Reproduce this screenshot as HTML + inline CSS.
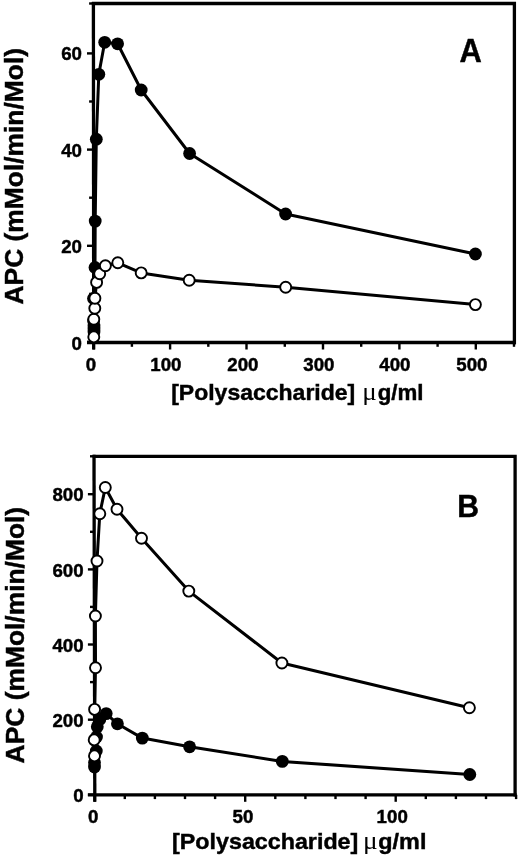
<!DOCTYPE html>
<html><head><meta charset="utf-8"><style>
html,body{margin:0;padding:0;background:#fff;}
body{width:520px;height:857px;overflow:hidden;}
svg{display:block;filter:grayscale(1);}
text{font-family:"Liberation Sans",sans-serif;fill:#000;stroke:#000;stroke-width:0.45px;}
.tk{font-weight:bold;font-size:18.7px;}
.let{font-weight:bold;font-size:32px;}
.axl{font-weight:bold;font-size:23px;}
.ayl{font-weight:bold;font-size:26.4px;}
.mu{font-family:"Liberation Serif",serif;font-size:27px;stroke:none;}
.gml{font-size:22.3px;}
</style></head><body>
<svg width="520" height="857" viewBox="0 0 520 857">
<rect width="520" height="857" fill="#fff"/>
<path d="M93.5,3.5 H514.4 V342.5" fill="none" stroke="#000" stroke-width="3.3" stroke-linejoin="miter" stroke-linecap="square"/>
<line x1="87.0" y1="342.5" x2="515.9" y2="342.5" stroke="#000" stroke-width="3.3"/>
<line x1="93.40" y1="2.0" x2="93.70" y2="349.5" stroke="#000" stroke-width="3.3"/>
<line x1="87.0" y1="342.0" x2="93.5" y2="342.0" stroke="#000" stroke-width="2.4"/>
<line x1="87.0" y1="245.8" x2="93.5" y2="245.8" stroke="#000" stroke-width="2.4"/>
<line x1="87.0" y1="149.6" x2="93.5" y2="149.6" stroke="#000" stroke-width="2.4"/>
<line x1="87.0" y1="53.4" x2="93.5" y2="53.4" stroke="#000" stroke-width="2.4"/>
<line x1="89.1" y1="293.9" x2="93.5" y2="293.9" stroke="#000" stroke-width="2.4"/>
<line x1="89.1" y1="197.7" x2="93.5" y2="197.7" stroke="#000" stroke-width="2.4"/>
<line x1="89.1" y1="101.5" x2="93.5" y2="101.5" stroke="#000" stroke-width="2.4"/>
<line x1="89.1" y1="3.5" x2="93.5" y2="3.5" stroke="#000" stroke-width="2.4"/>
<line x1="93.7" y1="342.5" x2="93.7" y2="349.5" stroke="#000" stroke-width="2.4"/>
<line x1="170.1" y1="342.5" x2="170.1" y2="349.5" stroke="#000" stroke-width="2.4"/>
<line x1="246.5" y1="342.5" x2="246.5" y2="349.5" stroke="#000" stroke-width="2.4"/>
<line x1="323.0" y1="342.5" x2="323.0" y2="349.5" stroke="#000" stroke-width="2.4"/>
<line x1="399.4" y1="342.5" x2="399.4" y2="349.5" stroke="#000" stroke-width="2.4"/>
<line x1="475.8" y1="342.5" x2="475.8" y2="349.5" stroke="#000" stroke-width="2.4"/>
<line x1="131.9" y1="342.5" x2="131.9" y2="346.8" stroke="#000" stroke-width="2.4"/>
<line x1="208.3" y1="342.5" x2="208.3" y2="346.8" stroke="#000" stroke-width="2.4"/>
<line x1="284.8" y1="342.5" x2="284.8" y2="346.8" stroke="#000" stroke-width="2.4"/>
<line x1="361.2" y1="342.5" x2="361.2" y2="346.8" stroke="#000" stroke-width="2.4"/>
<line x1="437.6" y1="342.5" x2="437.6" y2="346.8" stroke="#000" stroke-width="2.4"/>
<line x1="514.0" y1="342.5" x2="514.0" y2="346.8" stroke="#000" stroke-width="2.4"/>
<text x="82.0" y="349.7" text-anchor="end" class="tk">0</text>
<text x="82.0" y="253.2" text-anchor="end" class="tk">20</text>
<text x="82.0" y="156.7" text-anchor="end" class="tk">40</text>
<text x="82.0" y="60.1" text-anchor="end" class="tk">60</text>
<text x="91.0" y="370.8" text-anchor="middle" class="tk">0</text>
<text x="165.9" y="370.8" text-anchor="middle" class="tk">100</text>
<text x="242.9" y="370.8" text-anchor="middle" class="tk">200</text>
<text x="318.9" y="370.8" text-anchor="middle" class="tk">300</text>
<text x="394.9" y="370.8" text-anchor="middle" class="tk">400</text>
<text x="471.9" y="370.8" text-anchor="middle" class="tk">500</text>
<polyline points="94.0,332.0 94.0,329.0 94.0,326.0 93.6,321.0 93.5,298.5 95.0,267.5 95.2,221.1 96.3,139.2 98.8,74.3 104.7,42.3 117.6,43.8 141.2,90.0 189.6,153.5 285.6,214.0 475.4,254.0" fill="none" stroke="#000" stroke-width="3.0" stroke-linejoin="round"/>
<polyline points="93.8,336.9 93.8,319.2 94.8,308.3 94.9,298.2 96.6,282.4 99.7,273.8 105.4,265.8 117.8,262.8 141.2,272.9 189.2,280.2 285.7,287.3 475.4,304.6" fill="none" stroke="#000" stroke-width="3.0" stroke-linejoin="round"/>
<circle cx="94.0" cy="332.0" r="6.4" fill="#000"/>
<circle cx="94.0" cy="329.0" r="6.4" fill="#000"/>
<circle cx="94.0" cy="326.0" r="6.4" fill="#000"/>
<circle cx="93.6" cy="321.0" r="6.4" fill="#000"/>
<circle cx="93.5" cy="298.5" r="6.4" fill="#000"/>
<circle cx="95.0" cy="267.5" r="6.4" fill="#000"/>
<circle cx="95.2" cy="221.1" r="6.4" fill="#000"/>
<circle cx="96.3" cy="139.2" r="6.4" fill="#000"/>
<circle cx="98.8" cy="74.3" r="6.4" fill="#000"/>
<circle cx="104.7" cy="42.3" r="6.4" fill="#000"/>
<circle cx="117.6" cy="43.8" r="6.4" fill="#000"/>
<circle cx="141.2" cy="90.0" r="6.4" fill="#000"/>
<circle cx="189.6" cy="153.5" r="6.4" fill="#000"/>
<circle cx="285.6" cy="214.0" r="6.4" fill="#000"/>
<circle cx="475.4" cy="254.0" r="6.4" fill="#000"/>
<circle cx="93.8" cy="336.9" r="5.5" fill="#fff" stroke="#000" stroke-width="1.9"/>
<circle cx="93.8" cy="319.2" r="5.5" fill="#fff" stroke="#000" stroke-width="1.9"/>
<circle cx="94.8" cy="308.3" r="5.5" fill="#fff" stroke="#000" stroke-width="1.9"/>
<circle cx="94.9" cy="298.2" r="5.5" fill="#fff" stroke="#000" stroke-width="1.9"/>
<circle cx="96.6" cy="282.4" r="5.5" fill="#fff" stroke="#000" stroke-width="1.9"/>
<circle cx="99.7" cy="273.8" r="5.5" fill="#fff" stroke="#000" stroke-width="1.9"/>
<circle cx="105.4" cy="265.8" r="5.5" fill="#fff" stroke="#000" stroke-width="1.9"/>
<circle cx="117.8" cy="262.8" r="5.5" fill="#fff" stroke="#000" stroke-width="1.9"/>
<circle cx="141.2" cy="272.9" r="5.5" fill="#fff" stroke="#000" stroke-width="1.9"/>
<circle cx="189.2" cy="280.2" r="5.5" fill="#fff" stroke="#000" stroke-width="1.9"/>
<circle cx="285.7" cy="287.3" r="5.5" fill="#fff" stroke="#000" stroke-width="1.9"/>
<circle cx="475.4" cy="304.6" r="5.5" fill="#fff" stroke="#000" stroke-width="1.9"/>
<text transform="translate(459.40,62.00) scale(0.965,1.02)" x="0" y="0" class="let" style="font-size:32px">A</text>
<g transform="translate(171.20,400.00) scale(1.0,0.9500)">
<text x="0" y="0" class="axl">[Polysaccharide]</text>
<text x="191.0" y="0" class="mu">&#956;</text>
<text x="206.5" y="0" class="axl" style="font-size:22.3px">g/ml</text>
</g>
<text transform="translate(23.0,304.5) rotate(-90)" x="0" y="0" class="ayl">APC (mMol/min/Mol)</text>
<path d="M94.4,456.3 H515.1 V794.8" fill="none" stroke="#000" stroke-width="3.3" stroke-linejoin="miter" stroke-linecap="square"/>
<line x1="87.9" y1="794.8" x2="516.6" y2="794.8" stroke="#000" stroke-width="3.3"/>
<line x1="94.00" y1="454.8" x2="94.80" y2="801.8" stroke="#000" stroke-width="3.3"/>
<line x1="87.9" y1="794.8" x2="94.4" y2="794.8" stroke="#000" stroke-width="2.4"/>
<line x1="87.9" y1="719.7" x2="94.4" y2="719.7" stroke="#000" stroke-width="2.4"/>
<line x1="87.9" y1="644.5" x2="94.4" y2="644.5" stroke="#000" stroke-width="2.4"/>
<line x1="87.9" y1="569.4" x2="94.4" y2="569.4" stroke="#000" stroke-width="2.4"/>
<line x1="87.9" y1="494.2" x2="94.4" y2="494.2" stroke="#000" stroke-width="2.4"/>
<line x1="90.0" y1="757.2" x2="94.4" y2="757.2" stroke="#000" stroke-width="2.4"/>
<line x1="90.0" y1="682.1" x2="94.4" y2="682.1" stroke="#000" stroke-width="2.4"/>
<line x1="90.0" y1="606.9" x2="94.4" y2="606.9" stroke="#000" stroke-width="2.4"/>
<line x1="90.0" y1="531.8" x2="94.4" y2="531.8" stroke="#000" stroke-width="2.4"/>
<line x1="90.0" y1="456.3" x2="94.4" y2="456.3" stroke="#000" stroke-width="2.4"/>
<line x1="94.7" y1="794.8" x2="94.7" y2="801.8" stroke="#000" stroke-width="2.4"/>
<line x1="245.2" y1="794.8" x2="245.2" y2="801.8" stroke="#000" stroke-width="2.4"/>
<line x1="395.7" y1="794.8" x2="395.7" y2="801.8" stroke="#000" stroke-width="2.4"/>
<line x1="124.8" y1="794.8" x2="124.8" y2="799.1" stroke="#000" stroke-width="2.4"/>
<line x1="154.9" y1="794.8" x2="154.9" y2="799.1" stroke="#000" stroke-width="2.4"/>
<line x1="185.0" y1="794.8" x2="185.0" y2="799.1" stroke="#000" stroke-width="2.4"/>
<line x1="215.1" y1="794.8" x2="215.1" y2="799.1" stroke="#000" stroke-width="2.4"/>
<line x1="275.3" y1="794.8" x2="275.3" y2="799.1" stroke="#000" stroke-width="2.4"/>
<line x1="305.4" y1="794.8" x2="305.4" y2="799.1" stroke="#000" stroke-width="2.4"/>
<line x1="335.5" y1="794.8" x2="335.5" y2="799.1" stroke="#000" stroke-width="2.4"/>
<line x1="365.6" y1="794.8" x2="365.6" y2="799.1" stroke="#000" stroke-width="2.4"/>
<line x1="425.8" y1="794.8" x2="425.8" y2="799.1" stroke="#000" stroke-width="2.4"/>
<line x1="455.9" y1="794.8" x2="455.9" y2="799.1" stroke="#000" stroke-width="2.4"/>
<line x1="486.0" y1="794.8" x2="486.0" y2="799.1" stroke="#000" stroke-width="2.4"/>
<line x1="516.1" y1="794.8" x2="516.1" y2="799.1" stroke="#000" stroke-width="2.4"/>
<text x="83.6" y="802.2" text-anchor="end" class="tk">0</text>
<text x="83.6" y="727.1" text-anchor="end" class="tk">200</text>
<text x="83.6" y="651.9" text-anchor="end" class="tk">400</text>
<text x="83.6" y="576.8" text-anchor="end" class="tk">600</text>
<text x="83.6" y="500.9" text-anchor="end" class="tk">800</text>
<text x="93.1" y="822.8" text-anchor="middle" class="tk">0</text>
<text x="243.0" y="822.8" text-anchor="middle" class="tk">50</text>
<text x="392.2" y="822.8" text-anchor="middle" class="tk">100</text>
<polyline points="94.5,767.0 94.5,762.5 96.3,751.0 96.5,737.0 97.3,726.8 99.8,719.5 106.2,713.6 117.4,723.8 142.3,738.1 189.6,746.8 282.3,761.4 469.8,774.5" fill="none" stroke="#000" stroke-width="3.0" stroke-linejoin="round"/>
<polyline points="94.5,755.9 94.2,739.9 94.6,709.4 95.5,667.8 95.4,616.0 97.0,561.0 99.8,513.7 105.3,487.5 117.0,509.3 141.5,538.2 188.8,591.1 281.9,663.0 469.4,707.7" fill="none" stroke="#000" stroke-width="3.0" stroke-linejoin="round"/>
<circle cx="94.5" cy="767.0" r="6.4" fill="#000"/>
<circle cx="94.5" cy="762.5" r="6.4" fill="#000"/>
<circle cx="96.3" cy="751.0" r="6.4" fill="#000"/>
<circle cx="96.5" cy="737.0" r="6.4" fill="#000"/>
<circle cx="97.3" cy="726.8" r="6.4" fill="#000"/>
<circle cx="99.8" cy="719.5" r="6.4" fill="#000"/>
<circle cx="106.2" cy="713.6" r="6.4" fill="#000"/>
<circle cx="117.4" cy="723.8" r="6.4" fill="#000"/>
<circle cx="142.3" cy="738.1" r="6.4" fill="#000"/>
<circle cx="189.6" cy="746.8" r="6.4" fill="#000"/>
<circle cx="282.3" cy="761.4" r="6.4" fill="#000"/>
<circle cx="469.8" cy="774.5" r="6.4" fill="#000"/>
<circle cx="94.5" cy="755.9" r="5.5" fill="#fff" stroke="#000" stroke-width="1.9"/>
<circle cx="94.2" cy="739.9" r="5.5" fill="#fff" stroke="#000" stroke-width="1.9"/>
<circle cx="94.6" cy="709.4" r="5.5" fill="#fff" stroke="#000" stroke-width="1.9"/>
<circle cx="95.5" cy="667.8" r="5.5" fill="#fff" stroke="#000" stroke-width="1.9"/>
<circle cx="95.4" cy="616.0" r="5.5" fill="#fff" stroke="#000" stroke-width="1.9"/>
<circle cx="97.0" cy="561.0" r="5.5" fill="#fff" stroke="#000" stroke-width="1.9"/>
<circle cx="99.8" cy="513.7" r="5.5" fill="#fff" stroke="#000" stroke-width="1.9"/>
<circle cx="105.3" cy="487.5" r="5.5" fill="#fff" stroke="#000" stroke-width="1.9"/>
<circle cx="117.0" cy="509.3" r="5.5" fill="#fff" stroke="#000" stroke-width="1.9"/>
<circle cx="141.5" cy="538.2" r="5.5" fill="#fff" stroke="#000" stroke-width="1.9"/>
<circle cx="188.8" cy="591.1" r="5.5" fill="#fff" stroke="#000" stroke-width="1.9"/>
<circle cx="281.9" cy="663.0" r="5.5" fill="#fff" stroke="#000" stroke-width="1.9"/>
<circle cx="469.4" cy="707.7" r="5.5" fill="#fff" stroke="#000" stroke-width="1.9"/>
<text transform="translate(457.30,517.40) scale(0.965,1.02)" x="0" y="0" class="let" style="font-size:31.3px">B</text>
<g transform="translate(172.10,849.20) scale(1.012,0.9614)">
<text x="0" y="0" class="axl">[Polysaccharide]</text>
<text x="188.6" y="0" class="mu">&#956;</text>
<text x="203.8" y="0" class="axl" style="font-size:23.1px">g/ml</text>
</g>
<text transform="translate(23.6,763.4) rotate(-90)" x="0" y="0" class="ayl">APC (mMol/min/Mol)</text>
</svg>
</body></html>
